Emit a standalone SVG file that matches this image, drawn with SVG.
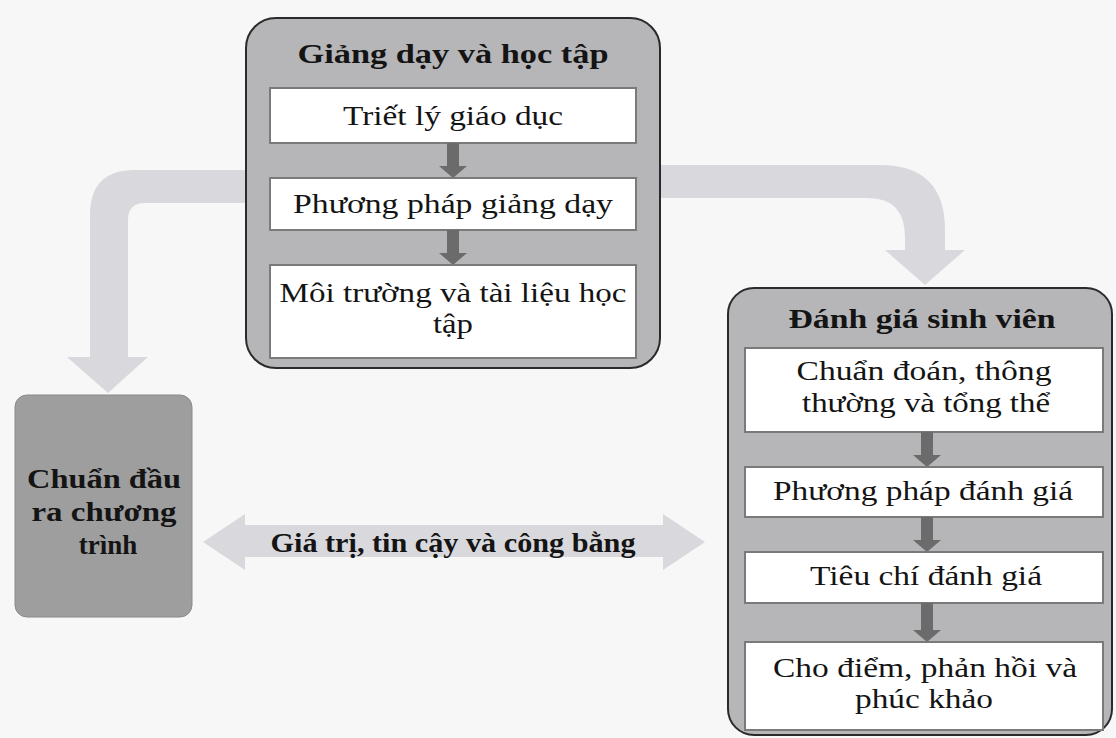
<svg xmlns="http://www.w3.org/2000/svg" width="1116" height="738" viewBox="0 0 1116 738">
<style>
.t{font-family:"Liberation Serif","Times New Roman",serif;font-size:27px;fill:#141414;text-anchor:middle}
.b{font-weight:bold}
.outer{fill:#b6b6b8;stroke:#2a2a2a;stroke-width:2}
.inner{fill:#ffffff;stroke:#7a7a7a;stroke-width:2}
.big{fill:#d9d9dd}
.small{fill:#6b6b6b}
</style>
<rect x="0" y="0" width="1116" height="738" fill="#f7f7f7"/>
<g id="connectors">
<path class="big" d="M 250 170 L 135 170 Q 90 170 90 215 L 90 357 L 67 357 L 108 393 L 148 357 L 128 357 L 128 220 Q 128 203 145 203 L 250 203 Z"/>
<path class="big" d="M 655 165 L 880 165 Q 945 165 945 230 L 945 250 L 965 250 L 925 285 L 885 250 L 905 250 L 905 238 Q 905 198 868 198 L 655 198 Z"/>
<path class="big" d="M 203 542 L 245 514 L 245 525 L 663 525 L 663 514 L 705 542 L 663 570 L 663 557 L 245 557 L 245 570 Z"/>
<text class="t b" x="453" y="552" font-size="24" textLength="365" lengthAdjust="spacingAndGlyphs">Giá trị, tin cậy và công bằng</text>
</g>
<g id="node-giang-day">
<rect class="outer" x="246" y="18" width="414" height="350" rx="30"/>
<text class="t b" x="453" y="63" font-size="26" textLength="311" lengthAdjust="spacingAndGlyphs">Giảng dạy và học tập</text>
<rect class="inner" x="270" y="88" width="366" height="55"/>
<text class="t" x="453" y="125" textLength="220" lengthAdjust="spacingAndGlyphs">Triết lý giáo dục</text>
<path class="small" d="M 447 143 L 459 143 L 459 166 L 467 166 L 453 178 L 439 166 L 447 166 Z"/>
<rect class="inner" x="270" y="178" width="366" height="52"/>
<text class="t" x="453" y="213" textLength="320" lengthAdjust="spacingAndGlyphs">Phương pháp giảng dạy</text>
<path class="small" d="M 447 230 L 459 230 L 459 253 L 467 253 L 453 265 L 439 253 L 447 253 Z"/>
<rect class="inner" x="270" y="265" width="366" height="93"/>
<text class="t" x="453" y="302" textLength="347" lengthAdjust="spacingAndGlyphs">Môi trường và tài liệu học</text>
<text class="t" x="453" y="333" textLength="40" lengthAdjust="spacingAndGlyphs">tập</text>
</g>
<g id="node-chuan-dau-ra">
<rect x="15" y="395" width="177" height="222" rx="12" fill="#9e9e9f" stroke="#8a8a8a" stroke-width="1"/>
<text class="t b" x="104" y="488" textLength="154" lengthAdjust="spacingAndGlyphs">Chuẩn đầu</text>
<text class="t b" x="104" y="521" textLength="145" lengthAdjust="spacingAndGlyphs">ra chương</text>
<text class="t b" x="108" y="554">trình</text>
</g>
<g id="node-danh-gia">
<rect class="outer" x="728" y="288" width="384" height="447" rx="26"/>
<text class="t b" x="922" y="328" font-size="24" textLength="267" lengthAdjust="spacingAndGlyphs">Đánh giá sinh viên</text>
<rect class="inner" x="745" y="348" width="358" height="84"/>
<text class="t" x="924" y="380" textLength="255" lengthAdjust="spacingAndGlyphs">Chuẩn đoán, thông</text>
<text class="t" x="926" y="412" textLength="248" lengthAdjust="spacingAndGlyphs">thường và tổng thể</text>
<path class="small" d="M 921 432 L 933 432 L 933 455 L 941 455 L 927 467 L 913 455 L 921 455 Z"/>
<rect class="inner" x="745" y="467" width="358" height="50"/>
<text class="t" x="923" y="500" textLength="300" lengthAdjust="spacingAndGlyphs">Phương pháp đánh giá</text>
<path class="small" d="M 921 517 L 933 517 L 933 540 L 941 540 L 927 552 L 913 540 L 921 540 Z"/>
<rect class="inner" x="745" y="552" width="358" height="51"/>
<text class="t" x="926" y="585" textLength="232" lengthAdjust="spacingAndGlyphs">Tiêu chí đánh giá</text>
<path class="small" d="M 921 603 L 933 603 L 933 630 L 941 630 L 927 642 L 913 630 L 921 630 Z"/>
<rect class="inner" x="745" y="642" width="358" height="88"/>
<text class="t" x="925" y="677" textLength="304" lengthAdjust="spacingAndGlyphs">Cho điểm, phản hồi và</text>
<text class="t" x="924" y="708" textLength="138" lengthAdjust="spacingAndGlyphs">phúc khảo</text>
</g>
</svg>
